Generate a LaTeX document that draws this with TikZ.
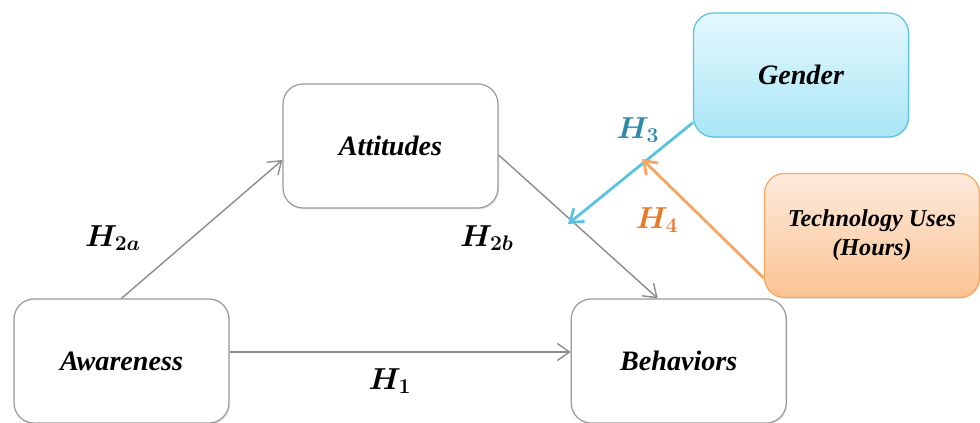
\documentclass[tikz,border=0pt]{standalone}
\usepackage{fontspec}
\setmainfont{Liberation Serif}
\usepackage{amsmath}
\usepackage{bm}
\usetikzlibrary{positioning, arrows.meta, calc, shadows}
\definecolor{boxline}{HTML}{9A9A9A}
\definecolor{linkgray}{HTML}{8C8C8C}
\definecolor{genderline}{HTML}{5BC3DF}
\definecolor{gendertop}{HTML}{E4F8FD}
\definecolor{genderbot}{HTML}{A9E6F6}
\definecolor{techline}{HTML}{F5A662}
\definecolor{techtop}{HTML}{FDEBDD}
\definecolor{techbot}{HTML}{FBC393}
\definecolor{hthree}{HTML}{2F8AAA}
\definecolor{hfour}{HTML}{E8782A}
\newcommand{\hyp}[2]{$\bm{H}_{\mbox{\fontsize{12.5}{14}\selectfont$\bm{#2}$}}$}

\begin{document}
\begin{tikzpicture}[
  x=1cm, y=1cm,
  >={Straight Barb[length=2.4mm, width=3.4mm]}
]
% -------------------- Styles --------------------
\tikzset{
  construct/.style={
    draw=boxline, rounded corners=0.4cm, line width=0.7pt,
    fill=white, align=center,
    minimum width=4.3cm, minimum height=2.48cm,
    font=\fontsize{16}{19}\selectfont\bfseries\itshape,
    drop shadow={opacity=0.18, shadow xshift=0.6pt, shadow yshift=-0.8pt}
  },
  moderator/.style={
    construct, draw=#1line,
    top color=#1top, bottom color=#1bot
  },
  link/.style={->, draw=linkgray, line width=0.8pt},
  modlink/.style={->, draw=#1line, line width=1.6pt},
  hlabel/.style={font=\fontsize{16}{19}\selectfont, inner sep=1pt}
}
\useasboundingbox (0,0) rectangle (19.6,8.46);

% -------------------- Main model --------------------
\node[construct] (aware) at (2.43,1.24) {Awareness};
\node[construct, right=6.82cm of aware] (behave) {Behaviors};
\node[construct] (attitude) at (7.81,5.54) {Attitudes};

\draw[link] (aware.north) -- ($(attitude.west)+(0,-0.28)$);
\draw[link] ($(attitude.east)+(0,-0.18)$) -- ($(behave.north)+(-0.42,0)$);
\draw[link] ($(aware.east)+(0,0.18)$) -- ($(behave.west)+(0,0.18)$);

\node[hlabel] (h2a) at (2.26,3.7) {\hyp{H}{2a}};
\node[hlabel] (h2b) at (9.74,3.7) {\hyp{H}{2b}};
\node[hlabel] (h1) at (7.8,0.84) {\hyp{H}{1}};

% -------------------- Moderators --------------------
\node[moderator=gender] (gender) at (16.02,6.96) {Gender};
\node[moderator=tech, font=\fontsize{13.8}{16.5}\selectfont\bfseries\itshape]
  (techuse) at (17.44,3.75) {Technology Uses\\(Hours)};

\coordinate (genderhit) at (11.36,3.98);
\coordinate (techhit) at (12.84,5.28);

\draw[modlink=gender] ($(gender.south west)+(0,0.3)$) -- (genderhit);
\draw[modlink=tech] ($(techuse.south west)+(0,0.4)$) -- (techhit);

\node[hlabel, text=hthree] (h3) at (12.76,5.86) {\hyp{H}{3}};
\node[hlabel, text=hfour] (h4) at (13.14,4.06) {\hyp{H}{4}};

\end{tikzpicture}
\end{document}
